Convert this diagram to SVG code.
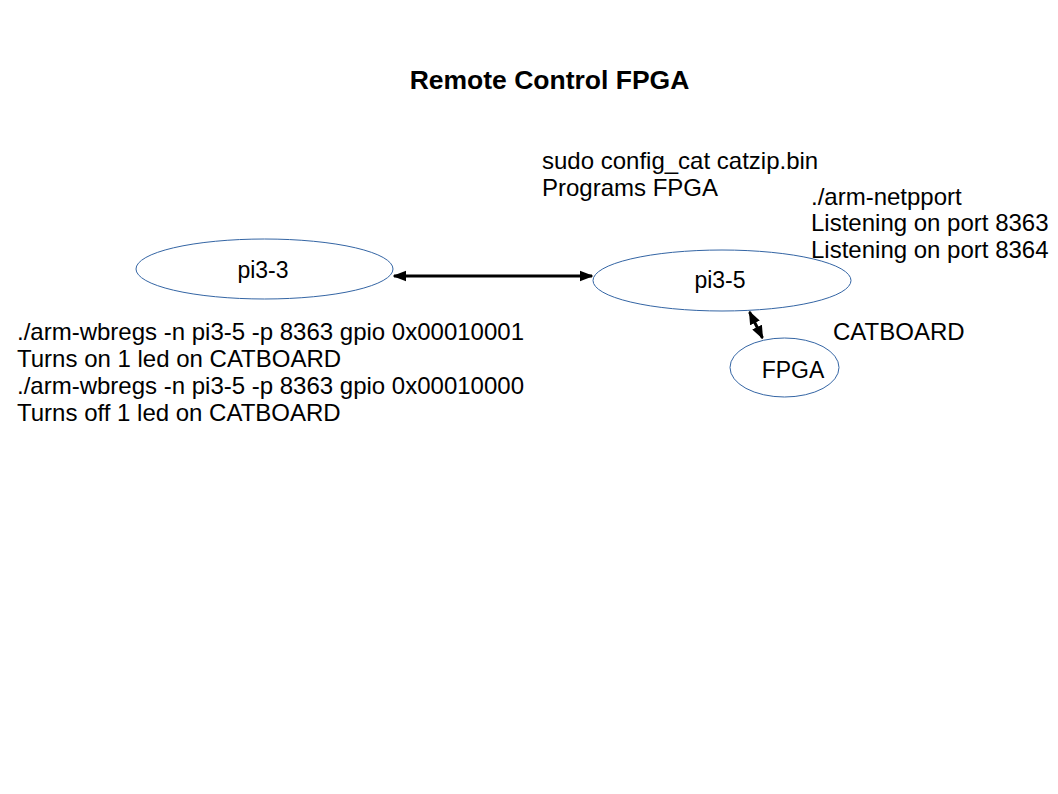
<svg xmlns="http://www.w3.org/2000/svg" width="1058" height="794" viewBox="0 0 1058 794">
<style>
text{font-family:"Liberation Sans",Arial,sans-serif;font-size:24px;fill:#000}
.title{font-weight:bold;font-size:26.5px}
.nl{font-size:23px}
.node{fill:#fff;stroke:#3465a4;stroke-width:1}
.conn{stroke:#000;stroke-width:3;fill:none}
</style>
<defs>
<marker id="ah" viewBox="0 0 10 10" refX="9" refY="5" markerWidth="4.5" markerHeight="4.5" orient="auto-start-reverse" markerUnits="strokeWidth">
<path d="M0,1 L10,5 L0,9 z" fill="#000"/>
</marker>
</defs>
<rect width="1058" height="794" fill="#fff"/>
<text class="title" x="549.5" y="89" text-anchor="middle">Remote Control FPGA</text>
<g id="connectors">
<line class="conn" x1="394" y1="276" x2="592" y2="276" marker-start="url(#ah)" marker-end="url(#ah)"/>
<line class="conn" x1="749.5" y1="312" x2="762.5" y2="338" marker-start="url(#ah)" marker-end="url(#ah)"/>
</g>
<g id="pi3-3">
<ellipse class="node" cx="264.5" cy="269" rx="128.5" ry="30"/>
<text class="nl" x="263" y="278" text-anchor="middle">pi3-3</text>
</g>
<g id="pi3-5">
<ellipse class="node" cx="722" cy="280.5" rx="129" ry="30.5"/>
<text class="nl" x="720" y="288" text-anchor="middle">pi3-5</text>
</g>
<g id="fpga">
<ellipse class="node" cx="784.5" cy="367.5" rx="54.5" ry="29.5"/>
<text class="nl" x="793" y="378" text-anchor="middle">FPGA</text>
</g>
<g id="labels">
<text x="542" y="169">sudo config_cat catzip.bin</text>
<text x="542" y="196">Programs FPGA</text>
<text x="811" y="205">./arm-netpport</text>
<text x="811" y="231">Listening on port 8363</text>
<text x="811" y="258">Listening on port 8364</text>
<text x="833" y="340">CATBOARD</text>
<text x="17" y="340">./arm-wbregs -n pi3-5 -p 8363 gpio 0x00010001</text>
<text x="17" y="367">Turns on 1 led on CATBOARD</text>
<text x="17" y="394">./arm-wbregs -n pi3-5 -p 8363 gpio 0x00010000</text>
<text x="17" y="421">Turns off 1 led on CATBOARD</text>
</g>
</svg>
